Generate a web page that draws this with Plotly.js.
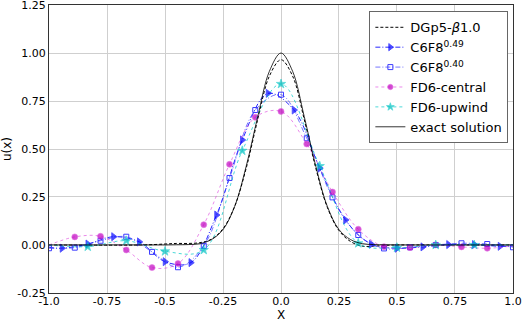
<!DOCTYPE html>
<html>
<head>
<meta charset="utf-8">
<script src="https://cdn.plot.ly/plotly-3.0.1.min.js"></script>
<style>
  html, body { margin: 0; padding: 0; background: #fff; }
  #chart { width: 523px; height: 322px; }
</style>
</head>
<body>
<div id="chart"></div>
<script>
// exact solution and DG curve
const xSmooth = [-1, -0.6, -0.5, -0.45, -0.4, -0.35, -0.3, -0.25, -0.2, -0.15, -0.1, -0.05, 0,
                 0.05, 0.1, 0.15, 0.2, 0.25, 0.3, 0.35, 0.4, 0.45, 0.5, 0.6, 1];
const exactY = [0, 0, 0, 0.001, 0.002, 0.007, 0.028, 0.08, 0.2, 0.41, 0.67, 0.905, 1.0,
                0.905, 0.67, 0.41, 0.2, 0.08, 0.028, 0.007, 0.002, 0.001, 0, 0, 0];
const dgY = [0, 0, 0.005, 0.008, 0.008, 0.012, 0.03, 0.085, 0.2, 0.4, 0.655, 0.88, 0.965,
             0.88, 0.655, 0.4, 0.195, 0.075, 0.018, -0.006, -0.006, -0.002, 0, 0, 0];

// C6F8^0.49 (triangles)
const c49X = [-1, -0.944, -0.833, -0.722, -0.611, -0.5, -0.389, -0.278, -0.167, -0.056,
              0.056, 0.167, 0.278, 0.389, 0.5, 0.611, 0.722, 0.833, 0.944, 1];
const c49Y = [-0.012, -0.017, 0.005, 0.043, 0.016, -0.087, -0.092, 0.156, 0.547, 0.79,
              0.703, 0.40, 0.13, 0.004, -0.017, -0.01, 0.002, 0.002, -0.007, -0.006];

// C6F8^0.40 (open squares)
const c40X = [-1, -0.889, -0.778, -0.667, -0.556, -0.444, -0.333, -0.222, -0.111, 0,
              0.111, 0.222, 0.333, 0.444, 0.556, 0.667, 0.778, 0.889, 1];
const c40Y = [-0.017, -0.014, 0.022, 0.043, -0.036, -0.116, -0.005, 0.349, 0.703, 0.783,
              0.556, 0.248, 0.052, -0.018, -0.012, 0.0, 0.009, 0.005, -0.012];

// FD6-central (circles)
const fdcX = [-1, -0.889, -0.778, -0.667, -0.556, -0.444, -0.333, -0.222, -0.111, 0,
              0.111, 0.222, 0.333, 0.444, 0.556, 0.667, 0.778, 0.889, 1];
const fdcY = [0.0, 0.042, 0.045, -0.026, -0.118, -0.097, 0.106, 0.42, 0.665, 0.696,
              0.526, 0.276, 0.082, -0.009, -0.014, 0.0, -0.01, -0.017, -0.005];

// FD6-upwind (stars)
const fduX = [-1, -0.833, -0.667, -0.5, -0.333, -0.167, 0, 0.167, 0.333, 0.5, 0.667, 0.833, 1];
const fduY = [0.0, -0.009, 0.022, -0.033, -0.026, 0.491, 0.839, 0.411, 0.009, -0.014, 0.0, 0.0, 0.0];

const xTicks = [-1, -0.75, -0.5, -0.25, 0, 0.25, 0.5, 0.75, 1];
const xTickText = ['-1.0', '-0.75', '-0.5', '-0.25', '0.0', '0.25', '0.5', '0.75', '1.0'];
const yTicks = [-0.25, 0, 0.25, 0.5, 0.75, 1.0, 1.25];
const yTickText = ['-0.25', '0.00', '0.25', '0.50', '0.75', '1.00', '1.25'];

// hide markers on the padding end points of a series
function innerSizes(xs, size) {
    return xs.map((v, i) => (i === 0 || i === xs.length - 1) ? 0 : size);
}

const traces = [
    {
        x: xSmooth, y: dgY, name: 'DGp5-<i>β</i>1.0',
        mode: 'lines', line: { color: '#000', width: 1, dash: '3px,2px', shape: 'spline' }
    },
    {
        x: c49X, y: c49Y, name: 'C6F8<sup>0.49</sup>',
        mode: 'lines+markers',
        line: { color: 'rgba(0,0,255,0.85)', width: 1, dash: '5px,2px,1px,2px', shape: 'spline' },
        marker: { symbol: 'triangle-right', color: '#0000ff', size: innerSizes(c49X, 7) }
    },
    {
        x: c40X, y: c40Y, name: 'C6F8<sup>0.40</sup>',
        mode: 'lines+markers',
        line: { color: 'rgba(60,60,255,0.7)', width: 1, dash: '5px,2px,1px,2px', shape: 'spline' },
        marker: { symbol: 'square-open', color: '#3c3cff', size: 5, line: { width: 1 } }
    },
    {
        x: fdcX, y: fdcY, name: 'FD6-central',
        mode: 'lines+markers',
        line: { color: 'rgba(220,60,220,0.6)', width: 1, dash: 'dot', shape: 'spline' },
        marker: { symbol: 'circle', color: '#bf00bf', size: innerSizes(fdcX, 6) }
    },
    {
        x: fduX, y: fduY, name: 'FD6-upwind',
        mode: 'lines+markers',
        line: { color: 'rgba(0,200,200,0.7)', width: 1, dash: 'dot', shape: 'spline' },
        marker: { symbol: 'star', color: '#00bfbf', size: innerSizes(fduX, 7) }
    },
    {
        x: xSmooth, y: exactY, name: 'exact solution',
        mode: 'lines', line: { color: '#000', width: 0.8, shape: 'spline' }
    }
];

const axisFont = { family: 'DejaVu Sans', size: 11, color: '#000' };

const layout = {
    width: 523, height: 322,
    margin: { l: 49, r: 10, t: 5, b: 29 },
    paper_bgcolor: '#fff', plot_bgcolor: '#fff',
    font: { family: 'DejaVu Sans', size: 11, color: '#000' },
    showlegend: true,
    xaxis: {
        range: [-1.0001, 1.0001], tickvals: xTicks, ticktext: xTickText, tickfont: axisFont,
        showgrid: true, gridcolor: '#cfcfcf', gridwidth: 1, zeroline: false,
        showline: true, mirror: true, linecolor: '#333', linewidth: 1,
        ticks: '', ticklen: 0, ticklabelstandoff: -2, ticklabeloverflow: 'allow',
        title: { text: 'X', font: { family: 'DejaVu Sans', size: 12 }, standoff: 4 }
    },
    yaxis: {
        range: [-0.2502, 1.2502], tickvals: yTicks, ticktext: yTickText, tickfont: axisFont,
        showgrid: true, gridcolor: '#cfcfcf', gridwidth: 1, zeroline: false,
        showline: true, mirror: true, linecolor: '#333', linewidth: 1,
        ticks: '', ticklen: 0, ticklabeloverflow: 'allow',
        title: { text: 'u(x)', font: { family: 'DejaVu Sans', size: 12 }, standoff: 6 }
    },
    legend: {
        x: 0.99, y: 0.978, xanchor: 'right', yanchor: 'top',
        bgcolor: '#fff', bordercolor: '#666', borderwidth: 1,
        font: { family: 'DejaVu Sans', size: 13, color: '#000' },
        tracegroupgap: 0
    }
};

Plotly.newPlot('chart', traces, layout, { displayModeBar: false, staticPlot: true });
</script>
</body>
</html>
